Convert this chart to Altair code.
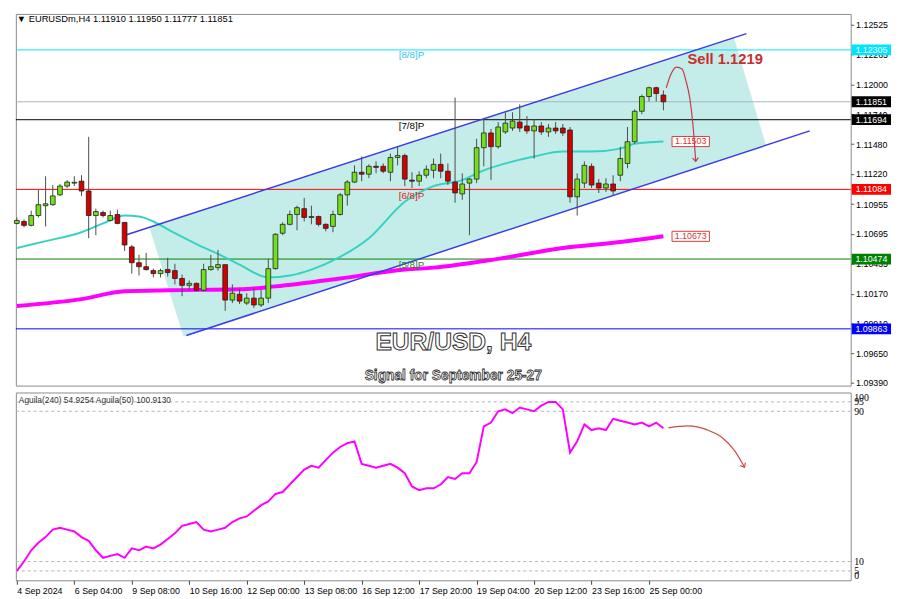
import altair as alt
import pandas as pd

# ---------------- data ----------------
opens = [1.10786,1.10803,1.10769,1.10855,1.10941,1.10950,1.11036,1.11113,1.11139,1.11156,
         1.11070,1.10855,1.10881,1.10812,1.10864,1.10795,1.10580,1.10442,1.10407,1.10373,
         1.10347,1.10382,1.10373,1.10304,1.10244,1.10261,1.10201,1.10382,1.10399,1.10425,
         1.10115,1.10166,1.10089,1.10132,1.10072,1.10132,1.10390,1.10700,1.10778,1.10864,
         1.10915,1.10838,1.10846,1.10778,1.10760,1.10864,1.11036,1.11148,1.11234,1.11217,
         1.11286,1.11286,1.11234,1.11363,1.11380,1.11165,1.11156,1.11208,1.11251,1.11303,
         1.11243,1.11148,1.11044,1.11139,1.11174,1.11449,1.11578,1.11458,1.11587,1.11621,
         1.11673,1.11639,1.11596,1.11639,1.11587,1.11621,1.11621,1.11604,1.11019,1.11139,
         1.11286,1.11139,1.11096,1.11131,1.11208,1.11311,1.11501,1.11768,1.11897,1.11974,
         1.11910]
highs = [1.10838,1.10821,1.10898,1.11079,1.11199,1.11122,1.11131,1.11165,1.11199,1.11208,
         1.11544,1.10915,1.10898,1.10898,1.10907,1.10795,1.10597,1.10511,1.10528,1.10390,
         1.10390,1.10485,1.10433,1.10338,1.10287,1.10270,1.10433,1.10511,1.10554,1.10425,
         1.10252,1.10209,1.10175,1.10218,1.10209,1.10476,1.10700,1.10795,1.10898,1.10941,
         1.11010,1.10941,1.10855,1.10786,1.10898,1.11053,1.11165,1.11294,1.11372,1.11303,
         1.11329,1.11311,1.11397,1.11458,1.11397,1.11234,1.11243,1.11294,1.11354,1.11397,
         1.11311,1.11888,1.11225,1.11182,1.11527,1.11699,1.11613,1.11673,1.11759,1.11759,
         1.11828,1.11725,1.11699,1.11673,1.11656,1.11673,1.11656,1.11630,1.11225,1.11329,
         1.11311,1.11174,1.11182,1.11208,1.11458,1.11630,1.11785,1.11914,1.11983,1.11983,
         1.11950]
lows = [1.10778,1.10752,1.10760,1.10838,1.10760,1.10941,1.11027,1.11096,1.11113,1.11027,
        1.10657,1.10683,1.10838,1.10803,1.10778,1.10545,1.10347,1.10330,1.10373,1.10313,
        1.10313,1.10321,1.10252,1.10149,1.10201,1.10192,1.10192,1.10373,1.10373,1.10020,
        1.10089,1.10080,1.10072,1.10046,1.10054,1.10089,1.10382,1.10683,1.10769,1.10726,
        1.10803,1.10778,1.10760,1.10717,1.10709,1.10855,1.10941,1.11139,1.11156,1.11182,
        1.11225,1.11225,1.11156,1.11294,1.11113,1.11096,1.11113,1.11182,1.11182,1.11182,
        1.11122,1.10967,1.10993,1.10683,1.11139,1.11286,1.11165,1.11441,1.11570,1.11596,
        1.11587,1.11570,1.11354,1.11561,1.11544,1.11570,1.11552,1.10967,1.10855,1.11096,
        1.11096,1.11053,1.11062,1.11036,1.11156,1.11268,1.11484,1.11742,1.11854,1.11854,
        1.11777]
closes = [1.10812,1.10769,1.10855,1.10950,1.10958,1.11027,1.11113,1.11148,1.11146,1.11070,
          1.10855,1.10890,1.10855,1.10855,1.10786,1.10597,1.10442,1.10407,1.10382,1.10347,
          1.10373,1.10356,1.10304,1.10244,1.10261,1.10201,1.10382,1.10407,1.10425,1.10115,
          1.10175,1.10106,1.10132,1.10072,1.10132,1.10390,1.10691,1.10778,1.10864,1.10924,
          1.10838,1.10846,1.10778,1.10743,1.10864,1.11036,1.11148,1.11234,1.11217,1.11286,
          1.11277,1.11243,1.11363,1.11380,1.11174,1.11156,1.11208,1.11260,1.11303,1.11243,
          1.11156,1.11053,1.11131,1.11174,1.11449,1.11578,1.11458,1.11630,1.11664,1.11682,
          1.11621,1.11596,1.11639,1.11587,1.11621,1.11596,1.11578,1.11019,1.11174,1.11294,
          1.11122,1.11096,1.11131,1.11070,1.11354,1.11501,1.11768,1.11897,1.11974,1.11923,
          1.11851]

cyan_idx = [0, 4, 9, 12, 15, 17, 19, 22, 25, 28, 31, 35, 38, 41, 45, 49, 54, 58, 62, 65, 68, 72, 76, 80, 84, 86, 90]
cyan_val = [1.10571, 1.10631, 1.10709, 1.10786, 1.10855, 1.10846, 1.10803, 1.10700, 1.10605, 1.10519,
            1.10425, 1.10313, 1.10330, 1.10382, 1.10493, 1.10657, 1.10976, 1.11113, 1.11165, 1.11251,
            1.11311, 1.11372, 1.11415, 1.11415, 1.11441, 1.11484, 1.11503]
mag_idx = [0, 9, 15, 21, 31, 36, 45, 54, 58, 67, 76, 84, 90]
mag_val = [1.10063, 1.10123, 1.10192, 1.10201, 1.10209, 1.10235, 1.10304, 1.10382, 1.10399,
           1.10476, 1.10571, 1.10623, 1.10674]

ind_vals = [5, 10, 16, 20, 23, 27, 28, 27, 26, 23,
            21, 16, 12, 13, 14, 12, 17, 16, 18, 17,
            19, 22, 25, 29, 30, 31, 27, 26, 27, 28,
            31, 33, 34, 37, 40, 42, 46, 47, 51, 55,
            59, 61, 60, 64, 68, 71, 73, 74, 62, 61,
            60, 61, 62, 60, 57, 50, 48, 49, 49, 51,
            55, 54, 57, 57, 63, 82, 84, 90, 91, 89,
            92, 91, 90, 93, 95, 95, 91, 68, 74, 83,
            80, 81, 80, 86, 85, 84, 83, 84, 82, 84,
            81]

level_names = ["8/8", "current", "7/8", "6/8", "5/8", "low"]
level_prices = [1.12305, 1.11851, 1.11694, 1.11084, 1.10474, 1.09863]
level_line_colors = ["#00e5ff", "#a8b4c0", "#000000", "#ff0000", "#008000", "#0000ff"]
level_box_colors = ["#00e5ff", "#000000", "#000000", "#ff0000", "#008000", "#0000ff"]

mm_labels = ["[8/8]P", "[7/8]P", "[6/8]P", "[5/8]P"]
mm_prices = [1.12258, 1.11639, 1.11027, 1.10425]
mm_colors = ["#3cc4f0", "#000000", "#e02020", "#1a8a1a"]

upper_idx = [15.05, 101.56]
upper_val = [1.10683, 1.12448]
lower_idx = [23.59, 110.37]
lower_val = [1.09805, 1.11596]
shade_idx = [18.44, 23.19, 99.80, 104.27]
shade_top = [1.10752, 1.10849, 1.12415, 1.11470]
shade_bot = [1.10752, 1.09796, 1.11378, 1.11470]

ma_box_prices = [1.11503, 1.10673]

parrow_idx = [90.4, 91.0, 91.8, 92.6, 93.1, 93.7, 94.1, 94.5]
parrow_val = [1.11974, 1.12086, 1.12155, 1.12138, 1.12043, 1.11871, 1.11656, 1.11329]
iarrow_idx = [90.7, 93.4, 96.1, 98.2, 99.9, 101.3]
iarrow_val = [81.2, 82.2, 80.1, 75.9, 69.1, 60.2]

price_ticks = [1.09390, 1.09650, 1.09910, 1.10170, 1.10435, 1.10695, 1.10955,
               1.11220, 1.11480, 1.11740, 1.12000, 1.12265, 1.12525]
time_tick_idx = [0, 8, 16, 24, 32, 40, 48, 56, 64, 72, 80, 88]
time_tick_labels = ["4 Sep 2024", "6 Sep 04:00", "9 Sep 08:00", "10 Sep 16:00", "12 Sep 00:00",
                    "13 Sep 08:00", "16 Sep 12:00", "17 Sep 20:00", "19 Sep 04:00",
                    "20 Sep 12:00", "23 Sep 16:00", "25 Sep 00:00"]
ind_levels = [95, 90, 10, 5]

symbol = "EURUSDm,H4"
title_text = "EUR/USD, H4"
subtitle_text = "Signal for September 25-27"
sell_text = "Sell 1.1219"
ind_header = "Aguila(240) 54.9254  Aguila(50) 100.9130"

# ---------------- layout ----------------
W, HP, HI = 849, 378, 191
X_DOM = [-0.136, 116.07]
P_DOM = [1.09366, 1.12620]
FONT = "Liberation Sans"
BULL, BEAR = "#74e01c", "#d40000"

xs = alt.Scale(domain=X_DOM, nice=False, zero=False)
ys = alt.Scale(domain=P_DOM, nice=False, zero=False)
yis = alt.Scale(domain=[0, 100], nice=False, zero=False)

price_axis = alt.Axis(orient="right", values=price_ticks, format=".5f", title=None, grid=False,
                      domain=False, tickSize=3, tickColor="#555", labelFont=FONT, labelFontSize=9,
                      labelColor="#000", labelPadding=2, labelOverlap=False, labelFlush=False)


def XP(f):
    return alt.X(f, type="quantitative", scale=xs, axis=None)


def YP(f):
    return alt.Y(f, type="quantitative", scale=ys, axis=price_axis)


# ---------------- price pane ----------------
n = len(opens)
candles = pd.DataFrame({"i": list(range(n)), "open": opens, "high": highs,
                        "low": lows, "close": closes})
candles["col"] = [BULL if c >= o else BEAR for o, c in zip(opens, closes)]

shade_df = pd.DataFrame({"i": shade_idx, "top": shade_top, "bot": shade_bot})
shade = alt.Chart(shade_df).mark_area(color="#c4ede9", opacity=1).encode(
    x=XP("i"), y=YP("top"), y2="bot")

lev_df = pd.DataFrame({"name": level_names, "price": level_prices,
                       "lc": level_line_colors, "bc": level_box_colors})
lev_rules = alt.Chart(lev_df).mark_rule(strokeWidth=1).encode(
    y=YP("price"), color=alt.Color("lc:N", scale=None))

cyan_df = pd.DataFrame({"i": cyan_idx, "v": cyan_val})
cyan_line = alt.Chart(cyan_df).mark_line(color="#35d2c4", strokeWidth=2, interpolate="monotone").encode(
    x=XP("i"), y=YP("v"))
mag_df = pd.DataFrame({"i": mag_idx, "v": mag_val})
mag_line = alt.Chart(mag_df).mark_line(color="#ff00ff", strokeWidth=4, interpolate="monotone").encode(
    x=XP("i"), y=YP("v"))

up_df = pd.DataFrame({"i": upper_idx, "v": upper_val})
lo_df = pd.DataFrame({"i": lower_idx, "v": lower_val})
up_line = alt.Chart(up_df).mark_line(color="#3a3ae6", strokeWidth=1.5).encode(x=XP("i"), y=YP("v"))
lo_line = alt.Chart(lo_df).mark_line(color="#3a3ae6", strokeWidth=1.5).encode(x=XP("i"), y=YP("v"))

wicks = alt.Chart(candles).mark_rule(color="#4a4a4a", strokeWidth=1).encode(
    x=XP("i"), y=YP("low"), y2="high")
bodies = alt.Chart(candles).transform_calculate(
    xa="datum.i - 0.33", xb="datum.i + 0.33").mark_rect(stroke="#1e1e1e", strokeWidth=0.8).encode(
    x=XP("xa"), x2="xb", y=YP("open"), y2="close", color=alt.Color("col:N", scale=None))

mm_df = pd.DataFrame({"t": mm_labels, "price": mm_prices, "c": mm_colors, "i": [53.15] * 4})
mm_text = alt.Chart(mm_df).mark_text(align="left", baseline="middle", font=FONT, fontSize=10).encode(
    x=XP("i"), y=YP("price"), text="t:N", color=alt.Color("c:N", scale=None))

BOX_R = "M-1,-0.275L1,-0.275L1,0.275L-1,0.275Z"
lev_box = alt.Chart(lev_df).mark_point(shape=BOX_R, size=1600, filled=True, opacity=1).encode(
    x=alt.value(870), y=YP("price"), color=alt.Color("bc:N", scale=None))
lev_box_txt = alt.Chart(lev_df).mark_text(color="white", font=FONT, fontSize=9, baseline="middle").encode(
    x=alt.value(870), y=YP("price"), text=alt.Text("price:Q", format=".5f"))

ma_df = pd.DataFrame({"price": ma_box_prices, "i": [93.8, 93.8]})
BOX_M = "M-1,-0.27L1,-0.27L1,0.27L-1,0.27Z"
ma_box = alt.Chart(ma_df).mark_point(shape=BOX_M, size=1444, filled=True, fill="white",
                                     stroke="#e03a3a", strokeWidth=1, opacity=1).encode(
    x=XP("i"), y=YP("price"))
ma_box_txt = alt.Chart(ma_df).mark_text(color="#e03030", font=FONT, fontSize=9, baseline="middle").encode(
    x=XP("i"), y=YP("price"), text=alt.Text("price:Q", format=".5f"))

par_df = pd.DataFrame({"i": parrow_idx, "v": parrow_val})
par_line = alt.Chart(par_df).mark_line(color="#c8384a", strokeWidth=1.2, interpolate="monotone").encode(
    x=XP("i"), y=YP("v"))
CHEV = "M-1,-1.2L0,0L1,-1.2"
par_head = alt.Chart(par_df.tail(1)).mark_point(shape=CHEV, size=36, filled=False, color="#c8384a",
                                                strokeWidth=1.2, angle=355, opacity=1).encode(
    x=XP("i"), y=YP("v"))

sell_df = pd.DataFrame({"t": [sell_text], "i": [98.6], "price": [1.12224]})
sell = alt.Chart(sell_df).mark_text(color="#c4302c", font=FONT, fontSize=15, fontWeight="bold").encode(
    x=XP("i"), y=YP("price"), text="t:N")

ttl_df = pd.DataFrame({"t": [title_text, subtitle_text], "i": [60.75, 60.75],
                       "price": [1.09744, 1.09452], "s": [25, 14], "sw": [1.0, 0.8]})
ttl = alt.Chart(ttl_df).mark_text(font=FONT, fontWeight="bold", baseline="middle", color="white",
                                  stroke="#2e2e2e").encode(
    x=XP("i"), y=YP("price"), text="t:N", size=alt.Size("s:Q", scale=None, legend=None),
    strokeWidth=alt.StrokeWidth("sw:Q", scale=None, legend=None))

head_df = pd.DataFrame({"t": ["\u25BC " + symbol + "  " + " ".join(f"{v:.5f}" for v in
                                  [opens[-1], highs[-1], lows[-1], closes[-1]])]})
header = alt.Chart(head_df).mark_text(align="left", baseline="top", font=FONT, fontSize=9.5,
                                       color="#000").encode(
    x=alt.value(1), y=alt.value(0), text="t:N")

top = alt.layer(shade, lev_rules, cyan_line, mag_line, up_line, lo_line, wicks, bodies,
                mm_text, ma_box, ma_box_txt, lev_box, lev_box_txt, par_line, par_head, sell,
                ttl, header).properties(width=W, height=HP)

# ---------------- indicator pane ----------------
label_expr = "[" + ",".join("'" + s + "'" for s in time_tick_labels) + "][round(datum.value / 8)]"
time_axis = alt.Axis(orient="bottom", values=time_tick_idx, labelExpr=label_expr, labelAlign="left",
                     labelBaseline="top", labelPadding=2, tickSize=4, tickColor="#444", domain=False,
                     grid=False, title=None, labelFont=FONT, labelFontSize=9, labelColor="#000",
                     labelOverlap=False, labelFlush=False, labelBound=False)
ind_axis = alt.Axis(orient="right", values=[0, 5, 10, 90, 95, 100], title=None, grid=False,
                    domain=False, ticks=False, labelFont="Liberation Serif", labelFontSize=10,
                    labelColor="#000", labelPadding=3, labelOverlap=False, labelFlush=True)


def XI(f):
    return alt.X(f, type="quantitative", scale=xs, axis=time_axis)


def YI(f):
    return alt.Y(f, type="quantitative", scale=yis, axis=ind_axis)


ind_df = pd.DataFrame({"i": list(range(len(ind_vals))), "v": ind_vals})
ilev_df = pd.DataFrame({"v": ind_levels})
ilev = alt.Chart(ilev_df).mark_rule(color="#b4b4b4", strokeWidth=1, strokeDash=[3, 3]).encode(y=YI("v"))
iline = alt.Chart(ind_df).mark_line(color="#ff00ff", strokeWidth=2).encode(x=XI("i"), y=YI("v"))
iar_df = pd.DataFrame({"i": iarrow_idx, "v": iarrow_val})
iar_line = alt.Chart(iar_df).mark_line(color="#d04848", strokeWidth=1.2, interpolate="monotone").encode(
    x=XI("i"), y=YI("v"))
iar_head = alt.Chart(iar_df.tail(1)).mark_point(shape=CHEV, size=36, filled=False, color="#d04848",
                                                strokeWidth=1.2, angle=330, opacity=1).encode(
    x=XI("i"), y=YI("v"))
ihead_df = pd.DataFrame({"t": [ind_header]})
ihead = alt.Chart(ihead_df).mark_text(align="left", baseline="top", font=FONT, fontSize=8.5,
                                       color="#333").encode(x=alt.value(3), y=alt.value(4), text="t:N")

bottom = alt.layer(ilev, iline, iar_line, iar_head, ihead).properties(width=W, height=HI)

chart = alt.vconcat(top, bottom, spacing=3).properties(
    padding={"left": 0, "top": 0, "right": 0, "bottom": 0}, background="white"
).configure_view(stroke="#8a8a8a", strokeWidth=1)

chart.save("out.html", embed_options={"renderer": "svg", "actions": False})
